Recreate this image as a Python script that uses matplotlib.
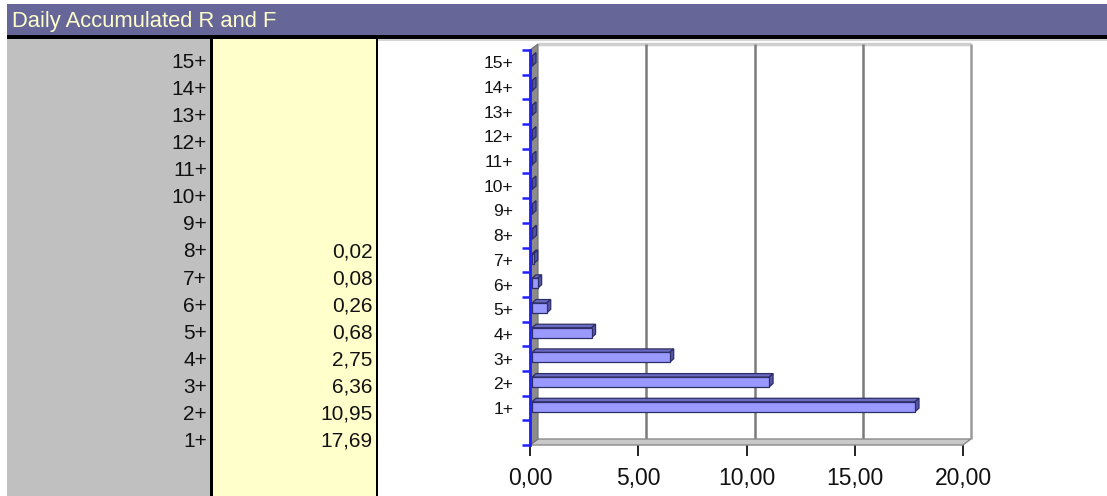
import matplotlib
matplotlib.use("Agg")
import matplotlib.pyplot as plt
from matplotlib import font_manager
from matplotlib.patches import Rectangle, Polygon
from matplotlib.ticker import FuncFormatter, FixedLocator

# ---------------- data ----------------
title = "Daily Accumulated R and F"
categories = ["1+", "2+", "3+", "4+", "5+", "6+", "7+", "8+",
              "9+", "10+", "11+", "12+", "13+", "14+", "15+"]
values = [17.69, 10.95, 6.36, 2.75, 0.68, 0.26, 0.08, 0.02,
          None, None, None, None, None, None, None]
x_ticks = [0, 5, 10, 15, 20]

chart_values = [v if v is not None else 0.0 for v in values]

names = {f.name for f in font_manager.fontManager.ttflist}
BASE = "Liberation Sans" if "Liberation Sans" in names else "DejaVu Sans"
NARROW = "Liberation Sans Narrow" if "Liberation Sans Narrow" in names else BASE

W, H = 1107, 496
fig = plt.figure(figsize=(W / 100, H / 100), dpi=100)
fig.patch.set_facecolor("white")

# background "sheet" axes in pixel coordinates
bg = fig.add_axes([0, 0, 1, 1], zorder=0)
bg.set_xlim(0, W)
bg.set_ylim(H, 0)
bg.axis("off")

PURPLE = "#666699"
bg.add_patch(Rectangle((7, 4), W - 7, 31, facecolor=PURPLE, edgecolor="none"))
bg.add_patch(Rectangle((7, 35), W - 7, 3.5, facecolor="black", edgecolor="none"))
bg.add_patch(Rectangle((378, 38.5), W - 378, 2.5, facecolor="#d4d4d4", edgecolor="none"))
bg.text(12, 26.7, title, color="#ffffcc", fontsize=15.8, family=BASE, va="baseline", ha="left")

# table columns
bg.add_patch(Rectangle((7, 38.5), 203, H - 38.5, facecolor="#c0c0c0", edgecolor="none"))
bg.add_patch(Rectangle((213, 38.5), 163, H - 38.5, facecolor="#ffffcc", edgecolor="none"))
bg.add_patch(Rectangle((210, 38.5), 3, H - 38.5, facecolor="black", edgecolor="none"))
bg.add_patch(Rectangle((376, 38.5), 2, H - 38.5, facecolor="black", edgecolor="none"))

row0 = 446.7   # baseline of the "1+" row
row_h = 27.03
for i, (cat, val) in enumerate(zip(categories, values)):
    yb = row0 - i * row_h
    bg.text(207, yb, cat, fontsize=15, family=BASE, ha="right", va="baseline", color="#111111")
    if val is not None:
        bg.text(372.5, yb, f"{val:.2f}".replace(".", ","), fontsize=15, family=BASE,
                ha="right", va="baseline", color="#111111")

# ---------------- chart ----------------
X0, X1 = 530, 963     # pixel positions of 0 and 20
Y0, Y1 = 445, 50      # pixel positions of y=0 and y=16
XMAX = 20
NSLOT = len(categories) + 1
ax = fig.add_axes([X0 / W, (H - Y0) / H, (X1 - X0) / W, (Y0 - Y1) / H], zorder=2)
ax.set_xlim(0, XMAX)
ax.set_ylim(0, NSLOT)
ax.patch.set_alpha(0)

ux = XMAX / (X1 - X0)         # data units per pixel
uy = NSLOT / (Y0 - Y1)
DX, DY = 8 * ux, 6 * uy       # depth of the 3D box

# back wall
ax.add_patch(Rectangle((DX, DY), XMAX, NSLOT, facecolor="white", edgecolor="none",
                       clip_on=False, zorder=0))
ax.plot([DX, XMAX + DX], [NSLOT + DY, NSLOT + DY], color="#cfcfcf", lw=2.5,
        clip_on=False, zorder=1, solid_capstyle="butt")
for xt in x_ticks[1:]:
    col = "#7a7a7a" if xt < XMAX else "#9a9a9a"
    ax.plot([xt + DX, xt + DX], [DY, NSLOT + DY], color=col, lw=1.8,
            clip_on=False, zorder=1, solid_capstyle="butt")

# floor
ax.add_patch(Polygon([(0, 0), (XMAX, 0), (XMAX + DX, DY), (DX, DY)], closed=True,
                     facecolor="#c8c8c8", edgecolor="#8a8a8a", lw=1.0,
                     clip_on=False, zorder=2))
# left wall
ax.add_patch(Polygon([(0, 0), (DX, DY), (DX, NSLOT + DY), (0, NSLOT)], closed=True,
                     facecolor="#8c8c8c", edgecolor="#707070", lw=0.8,
                     clip_on=False, zorder=2))

# bars
bh = 0.4
bx, by = 4 * ux, 3.5 * uy
fx, fy = 2 * ux, 1.25 * uy
ypos = [i + 1.5 for i in range(len(categories))]
EDGE = "#2e2e66"
for yc, v in zip(ypos, chart_values):
    bot = yc - bh / 2 + fy
    top = yc + bh / 2 + fy
    ax.add_patch(Polygon([(fx, top), (v + fx, top), (v + fx + bx, top + by), (fx + bx, top + by)],
                         closed=True, facecolor="#6b6bc4", edgecolor=EDGE, lw=0.9,
                         clip_on=False, zorder=4))
    ax.add_patch(Polygon([(v + fx, bot), (v + fx + bx, bot + by), (v + fx + bx, top + by), (v + fx, top)],
                         closed=True, facecolor="#5656a8", edgecolor=EDGE, lw=0.9,
                         clip_on=False, zorder=4))
ax.barh([y + fy for y in ypos], chart_values, left=fx, height=bh,
        color="#9999ff", edgecolor=EDGE, linewidth=0.9, zorder=5)

# axes styling
for s in ("top", "right", "bottom"):
    ax.spines[s].set_visible(False)
ax.spines["left"].set_color("#2020ff")
ax.spines["left"].set_linewidth(2)
ax.spines["left"].set_zorder(6)

ax.yaxis.set_major_locator(FixedLocator(list(range(NSLOT + 1))))
ax.yaxis.set_major_formatter(FuncFormatter(lambda v, p: ""))
ax.yaxis.set_minor_locator(FixedLocator(ypos))
ax.set_yticklabels(categories, minor=True)
ax.tick_params(axis="y", which="major", length=6, width=1.8, color="#2020ff", direction="out")
ax.tick_params(axis="y", which="minor", length=0, pad=12, labelsize=12.5)
for t in ax.get_yticklabels(minor=True):
    t.set_family(NARROW)
    t.set_color("#111111")

ax.set_xticks(x_ticks)
ax.xaxis.set_major_formatter(FuncFormatter(lambda v, p: f"{v:.2f}".replace(".", ",")))
ax.tick_params(axis="x", length=8, width=1.4, color="#222222", direction="out",
               pad=8, labelsize=16.5)
for t in ax.get_xticklabels():
    t.set_family(BASE)
    t.set_color("#111111")

fig.savefig("out.png", dpi=100)
